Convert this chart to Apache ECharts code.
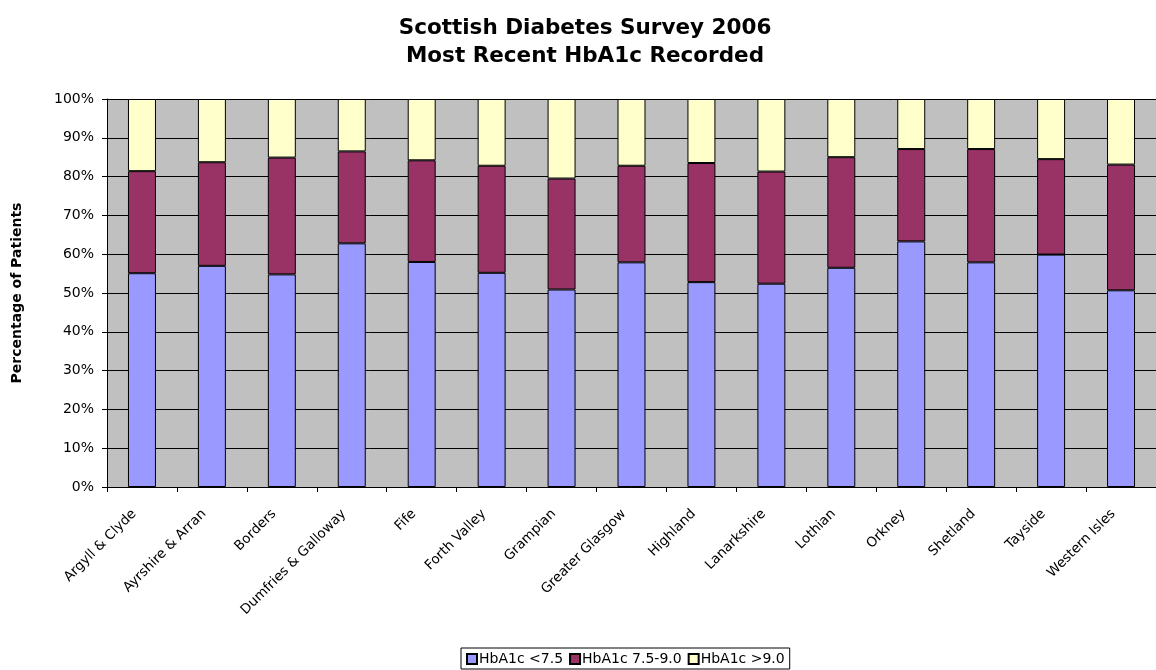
<!DOCTYPE html>
<html>
<head>
<meta charset="utf-8">
<script src="https://cdn.jsdelivr.net/npm/echarts@6/dist/echarts.min.js"></script>
<style>
  html, body { margin: 0; padding: 0; background: #ffffff; }
  #chart { width: 1156px; height: 670px; }
</style>
</head>
<body>
<div id="chart"></div>
<script>
// Health board areas
const boards = [
  'Argyll & Clyde', 'Ayrshire & Arran', 'Borders', 'Dumfries & Galloway', 'Fife',
  'Forth Valley', 'Grampian', 'Greater Glasgow', 'Highland', 'Lanarkshire',
  'Lothian', 'Orkney', 'Shetland', 'Tayside', 'Western Isles'
];

// Share of patients (%) in each HbA1c band
const below75 = [55.1, 57.0, 54.8, 62.8, 58.0, 55.2, 50.9, 57.9, 52.8, 52.4, 56.5, 63.3, 57.9, 59.9, 50.7];
const from75to90 = [26.3, 26.7, 30.1, 23.7, 26.2, 27.6, 28.6, 24.9, 30.7, 28.9, 28.5, 23.8, 29.2, 24.6, 32.4];
const above90 = [18.6, 16.3, 15.1, 13.5, 15.8, 17.2, 20.5, 17.2, 16.5, 18.7, 15.0, 12.9, 12.9, 15.5, 16.9];

const seriesNames = ['HbA1c <7.5', 'HbA1c 7.5-9.0', 'HbA1c >9.0'];
const seriesColors = ['#9999FF', '#993366', '#FFFFCC'];

const font = '"DejaVu Sans", Arial, sans-serif';

const chart = echarts.init(document.getElementById('chart'), null, { renderer: 'canvas' });

function band(name, data, color) {
  return {
    name: name,
    type: 'bar',
    stack: 'total',
    barWidth: '40%',
    data: data,
    itemStyle: { color: color, borderColor: '#000000', borderWidth: 1 },
    emphasis: { disabled: true }
  };
}

chart.setOption({
  animation: false,
  backgroundColor: '#ffffff',
  title: {
    text: 'Scottish Diabetes Survey 2006\nMost Recent HbA1c Recorded',
    left: 580,
    textAlign: 'center',
    top: 9,
    textStyle: { fontFamily: font, fontSize: 21.5, fontWeight: 'bold', color: '#000', lineHeight: 28 }
  },
  legend: {
    bottom: 1,
    left: 461,
    itemWidth: 10,
    itemHeight: 10,
    itemGap: 6,
    padding: [4, 5, 3, 5],
    borderColor: '#000',
    borderWidth: 1,
    icon: 'rect',
    textStyle: { fontFamily: font, fontSize: 14, color: '#000', padding: [0, 0, 0, -3] },
    data: seriesNames
  },
  grid: { left: 107, top: 99, width: 1056, bottom: 183, show: true, backgroundColor: '#C0C0C0', borderWidth: 0 },
  xAxis: {
    type: 'category',
    data: boards,
    boundaryGap: true,
    axisLine: { lineStyle: { color: '#000', width: 1 } },
    axisTick: { show: true, length: 5, lineStyle: { color: '#000' } },
    axisLabel: { rotate: 45, fontFamily: font, fontSize: 13.5, color: '#000', margin: 17, padding: [0, 11, 0, 0], interval: 0 }
  },
  yAxis: {
    type: 'value',
    min: 0,
    max: 100,
    interval: 10,
    name: 'Percentage of Patients',
    nameLocation: 'middle',
    nameGap: 83,
    nameTextStyle: { fontFamily: font, fontSize: 14, fontWeight: 'bold', color: '#000' },
    axisLine: { show: true, lineStyle: { color: '#000', width: 1 } },
    axisTick: { show: true, length: 5, lineStyle: { color: '#000' } },
    axisLabel: { formatter: '{value}%', fontFamily: font, fontSize: 14, color: '#000', margin: 13 },
    splitLine: { show: true, lineStyle: { color: '#000', width: 1 } }
  },
  series: [
    band(seriesNames[0], below75, seriesColors[0]),
    band(seriesNames[1], from75to90, seriesColors[1]),
    band(seriesNames[2], above90, seriesColors[2])
  ]
});
</script>
</body>
</html>
